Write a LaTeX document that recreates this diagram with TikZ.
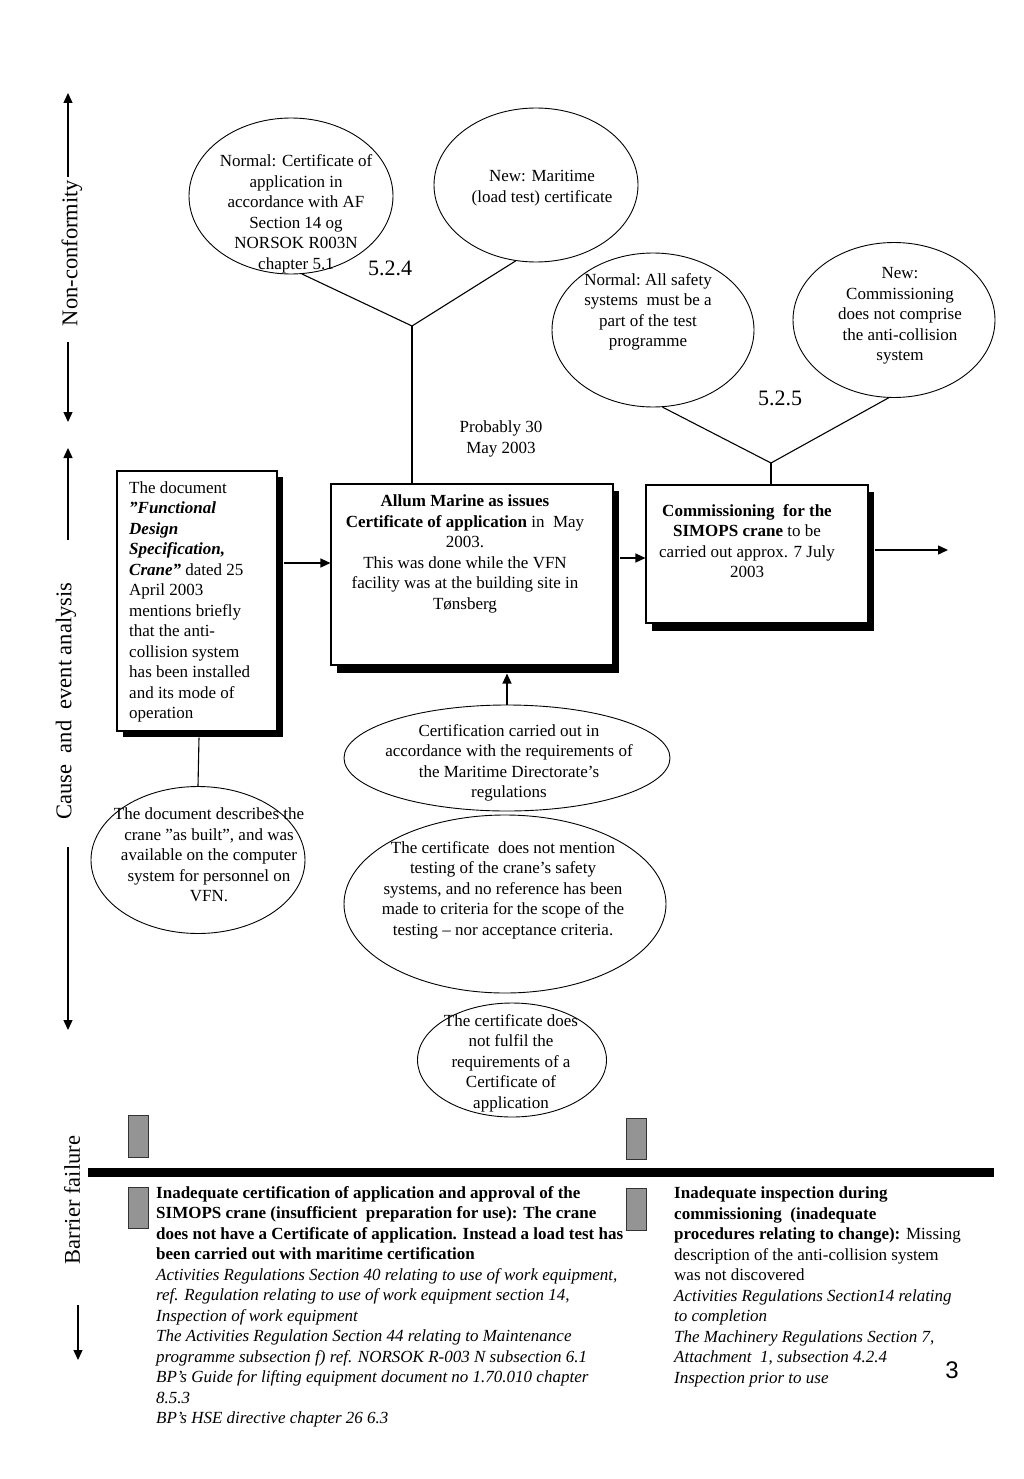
\documentclass[tikz,border=0pt]{standalone}
\usepackage{fontspec}
\setmainfont{Liberation Serif}
\newfontfamily\arialfont{Liberation Sans}
\usetikzlibrary{shapes.geometric,arrows.meta,calc}
\newcommand\bodyfs{\fontsize{17}{20.5}\selectfont}
\newcommand\axisfs{\fontsize{22.5}{27}\selectfont}
\newcommand\numfs{\fontsize{22}{26}\selectfont}
\begin{document}
\begin{tikzpicture}[x=1pt,y=-1pt,
  ell/.style={draw, ellipse, inner sep=0pt, line width=0.9pt},
  txt/.style={font=\bodyfs, align=center, inner sep=0pt},
  ltxt/.style={font=\bodyfs, align=left, inner sep=0pt, anchor=west},
  boxnode/.style={draw, fill=white, line width=1.1pt, inner sep=0pt},
  shadowbox/.style={fill=black, draw=none},
  conn/.style={line width=1.1pt},
  arr/.style={line width=1.3pt, -{Triangle[length=10pt,width=9pt]}},
  axislabel/.style={font=\axisfs, rotate=90, inner sep=0pt},
  greybox/.style={fill=black!42, draw=black!80, line width=0.8pt}
]
\useasboundingbox (0,0) rectangle (1024,1479);

% ---------- axes ----------
\node[axislabel] (nc) at (72,253) {Non-conformity};
\node[axislabel] (ce) at (66,701) {Cause\ \ and\ \ event analysis};
\node[axislabel] (bf) at (72,1200) {Barrier failure};
\coordinate (nct) at (68,93);
\coordinate (ncs) at (68,177);
\coordinate (ncb) at (68,342);
\coordinate (ncbt) at (68,422);
\coordinate (cet) at (68,448);
\coordinate (ces) at (68,540);
\coordinate (ceb) at (68,847);
\coordinate (cebt) at (68,1030);
\coordinate (bfb) at (78,1305);
\coordinate (bfbt) at (78,1360);
\draw[arr] (ncs) -- (nct);
\draw[arr] (ncb) -- (ncbt);
\draw[arr] (ces) -- (cet);
\draw[arr] (ceb) -- (cebt);
\draw[arr] (bfb) -- (bfbt);

% ---------- ellipses ----------
\node[ell, minimum width=204pt, minimum height=156pt] (e1) at (291,196) {};
\node[ell, minimum width=204pt, minimum height=154pt] (e2) at (536,185) {};
\node[ell, minimum width=202pt, minimum height=154pt] (e3) at (653,330) {};
\node[ell, minimum width=202pt, minimum height=155pt] (e4) at (894,320) {};
\node[ell, minimum width=326pt, minimum height=106pt] (e5) at (507,758) {};
\node[ell, minimum width=214pt, minimum height=147pt] (e6) at (198,860) {};
\node[ell, minimum width=322pt, minimum height=178pt] (e7) at (505,904) {};
\node[ell, minimum width=189pt, minimum height=114pt] (e8) at (512,1060) {};

\node[txt] (t1) at (296,214) {Normal: Certificate of\\application in\\accordance with AF\\Section 14 og\\NORSOK R003N\\chapter 5.1};
\node[txt] (t2) at (542,188) {New: Maritime\\(load test) certificate};
\node[txt] (t3) at (648,312) {Normal:\ All safety\\systems\ \ must be a\\part of the test\\programme};
\node[txt] (t4) at (900,316) {New:\\Commissioning\\does not comprise\\the anti-collision\\system};
\node[txt] (t5) at (509,763) {Certification carried out in\\accordance with the requirements of\\the Maritime Directorate’s\\regulations};
\node[txt] (t6) at (209,855) {The document describes the\\crane ”as built”, and was\\available on the computer\\system for personnel on\\VFN.};
\node[txt] (t7) at (503,890) {The certificate\ \ does not mention\\testing of the crane’s safety\\systems, and no reference has been\\made to criteria for the scope of the\\testing – nor acceptance criteria.};
\node[txt] (t8) at (511,1063) {The certificate does\\not fulfil the\\requirements of a\\Certificate of\\application};

\node[font=\numfs, inner sep=0pt] (n524) at (390,268) {5.2.4};
\node[font=\numfs, inner sep=0pt] (n525) at (780,398) {5.2.5};
\node[txt] (prob) at (501,439) {Probably 30\\May 2003};

% ---------- boxes ----------
\fill[shadowbox] (123,477) rectangle (283,737);
\node[boxnode, minimum width=160pt, minimum height=260pt] (b1) at (197,601) {};
\fill[shadowbox] (337,491) rectangle (619,673);
\node[boxnode, minimum width=282pt, minimum height=181pt] (b2) at (472,574.5) {};
\fill[shadowbox] (652,492) rectangle (874,631);
\node[boxnode, minimum width=222pt, minimum height=138pt] (b3) at (757,554) {};

\node[ltxt] (bt1) at (129,602) {The document\\\textbf{\textit{”Functional}}\\\textbf{\textit{Design}}\\\textbf{\textit{Specification,}}\\\textbf{\textit{Crane”}} dated 25\\April 2003\\mentions briefly\\that the anti-\\collision system\\has been installed\\and its mode of\\operation};
\node[txt] (bt2) at (465,554) {\textbf{Allum Marine as issues}\\\textbf{Certificate of application} in\ \ May\\2003.\\This was done while the VFN\\facility was at the building site in\\Tønsberg};
\node[txt] (bt3) at (747,541) {\textbf{Commissioning\ \ for the}\\\textbf{SIMOPS crane} to be\\carried out approx. 7 July\\2003};

% ---------- connectors ----------
\coordinate (j1) at (412,326);
\coordinate (j2) at (771,463);
\coordinate (outend) at (948,550);
\draw[conn] (e1.278) -- (j1);
\draw[conn] (e2.255) -- (j1);
\draw[conn] (j1) -- (j1 |- b2.north);
\draw[conn] (e3.277) -- (j2);
\draw[conn] (e4.266) -- (j2);
\draw[conn] (j2) -- (j2 |- b3.north);
\draw[arr] ($(b1.east)+(6,-38)$) -- ($(b2.west)+(0,-11.5)$);
\draw[arr] ($(b2.east)+(6,-16.5)$) -- ($(b3.west)+(0,4)$);
\draw[arr] ($(b3.east)+(6,-4)$) -- (outend);
\draw[arr] (e5.north) -- ($(e5.north |- b2.south)+(0,8)$);
\draw[conn] ($(b1.south)+(2,6)$) -- (e6.north);

% ---------- barrier section ----------
\coordinate (bl) at (88,1172);
\coordinate (br) at (994,1172);
\draw[line width=9pt] (bl) -- (br);
\draw[greybox] (128,1115) rectangle (148,1157);
\draw[greybox] (128,1187) rectangle (148,1228);
\draw[greybox] (626,1118) rectangle (646,1159);
\draw[greybox] (626,1188) rectangle (646,1230);

\node[ltxt] (bl1) at (156,1307) {\textbf{Inadequate certification of application and approval of the}\\\textbf{SIMOPS crane (insufficient\ \ preparation for use): The crane}\\\textbf{does not have a Certificate of application. Instead a load test has}\\\textbf{been carried out with maritime certification}\\\textit{Activities Regulations Section 40 relating to use of work equipment,}\\\textit{ref. Regulation relating to use of work equipment section 14,}\\\textit{Inspection of work equipment}\\\textit{The Activities Regulation Section 44 relating to Maintenance}\\\textit{programme subsection f) ref. NORSOK R-003 N subsection 6.1}\\\textit{BP’s Guide for lifting equipment document no 1.70.010 chapter}\\\textit{8.5.3}\\\textit{BP’s HSE directive chapter 26 6.3}};
\node[ltxt] (br1) at (674,1287) {\textbf{Inadequate inspection during}\\\textbf{commissioning\ \ (inadequate}\\\textbf{procedures relating to change):} Missing\\description of the anti-collision system\\was not discovered\\\textit{Activities Regulations Section14 relating}\\\textit{to completion}\\\textit{The Machinery Regulations Section 7,}\\\textit{Attachment\ \ 1, subsection 4.2.4}\\\textit{Inspection prior to use}};

\node[font=\arialfont\fontsize{24}{28}\selectfont, inner sep=0pt] (pg) at (952,1370) {3};
\end{tikzpicture}
\end{document}
